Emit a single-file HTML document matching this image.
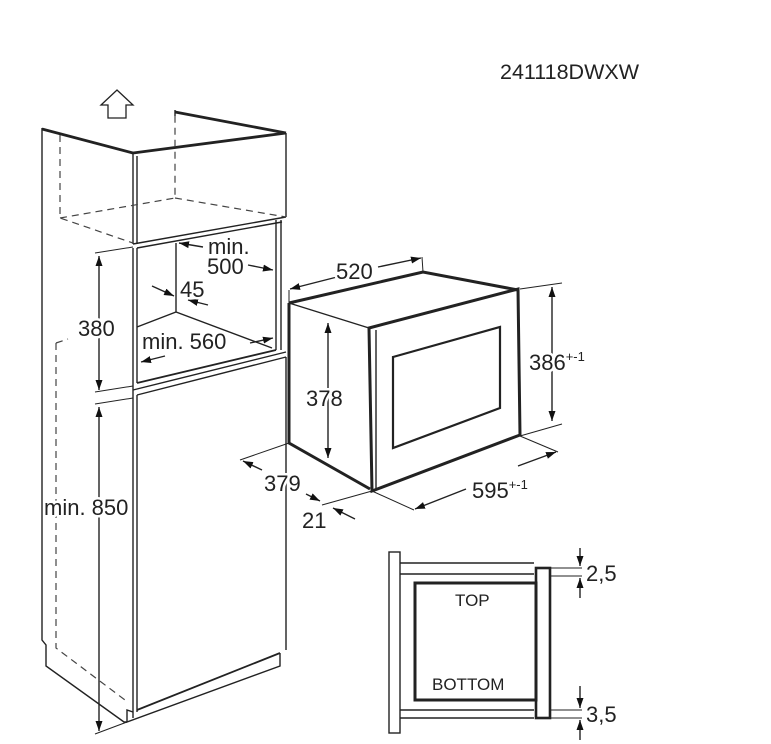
<!DOCTYPE html>
<html><head><meta charset="utf-8"><style>
html,body{margin:0;padding:0;background:#fff;width:771px;height:744px;overflow:hidden}
svg{display:block}
text{font-family:"Liberation Sans",Arial,sans-serif;fill:#222}
.h text{stroke:#fff;stroke-width:5px;paint-order:stroke;stroke-linejoin:round}
</style></head><body>
<svg width="771" height="744" viewBox="0 0 771 744" xmlns="http://www.w3.org/2000/svg">
<defs>
<marker id="a" viewBox="0 0 10 10" refX="10" refY="5" markerWidth="10" markerHeight="10" orient="auto-start-reverse" markerUnits="userSpaceOnUse"><path d="M0,1.5 L10,5 L0,8.5 z" fill="#111"/></marker>
</defs>
<text x="500" y="79" font-size="21.5">241118DWXW</text>

<path d="M108,118 L108,105 L101,105 L117,90 L133,105 L126,105 L126,118 Z" fill="none" stroke="#222" stroke-width="1.3"/>

<g fill="none" stroke="#222" stroke-width="1.4">
<path d="M42,128 L42,640 L46,645 L46,666 L124,722 L127,722"/>
<path d="M42,129 L133,153" stroke-width="2.8"/>
<path d="M133,153 L286,133" stroke-width="2.8"/>
<path d="M175,112 L286,133" stroke-width="2.8"/>
<path d="M175,110 L175,116"/>
<path d="M133,153 L133,244 M137,156 L137,244 M286,133 L286,217"/>
<path d="M133,244 L286,217 M137,248 L282,222"/>
<path d="M276,220 L276,350 M281,220 L281,350"/>
<path d="M133,248 L133,390 M137,248 L137,383"/>
<path d="M176,243 L176,312"/>
<path d="M137,327 L176,312 L272,348"/>
<path d="M137,383 L276,350" stroke-width="1.8"/>
<path d="M133,390 L286,352 M137,395 L286,357"/>
<path d="M133,390 L133,718 M137,395 L137,712"/>
<path d="M286,357 L286,650"/>
<path d="M137,710 L280,653" stroke-width="1.8"/>
<path d="M280,653 L280,666 L127,722 L127,710 L133,712"/>
<g stroke-dasharray="7,5" stroke-width="1.2" stroke="#444">
<path d="M60,135 L60,218 L133,243"/>
<path d="M60,218 L175,198 L175,116"/>
<path d="M175,198 L286,217"/>
<path d="M56,343 L56,648 L125,700"/>
<path d="M56,343 L68,339"/>
</g>
<path d="M95,253 L133,247 M95,392 L133,386 M95,404 L133,398" stroke-width="1"/>
<path d="M99,256 L99,390" marker-start="url(#a)" marker-end="url(#a)"/>
<path d="M99,407 L99,731" marker-start="url(#a)" marker-end="url(#a)"/>
<path d="M95,734 L127,722" stroke-width="1"/>
<path d="M203,247 L179,243" marker-end="url(#a)"/>
<path d="M248,265 L273,270" marker-end="url(#a)"/>
<path d="M152,286 L174,296" marker-end="url(#a)"/>
<path d="M208,305 L188,300" marker-end="url(#a)"/>
<path d="M165,356 L141,362" marker-end="url(#a)"/>
<path d="M250,343 L273,338" marker-end="url(#a)"/>

<path d="M289,303 L423,272 L518,290" stroke-width="3"/>
<path d="M289,303 L289,443 L370,489" stroke-width="3"/>
<path d="M289,303 L369,328" stroke-width="1.4"/>
<path d="M369,328 L518,289 L520,435 L372,491 Z" stroke-width="3"/>
<path d="M376,330 L376,490" stroke-width="1.4"/>
<path d="M393,357 L500,327 L500,408 L393,448 Z" stroke-width="2.2"/>
<path d="M289,290 L289,303 M422,257 L423,272" stroke-width="1"/>
<path d="M337,277 L290,289" marker-end="url(#a)"/>
<path d="M378,267 L421,258" marker-end="url(#a)"/>
<path d="M328,323 L328,458" marker-start="url(#a)" marker-end="url(#a)"/>
<path d="M520,289 L562,283 M520,436 L562,424" stroke-width="1"/>
<path d="M552,287 L552,421" marker-start="url(#a)" marker-end="url(#a)"/>
<path d="M520,436 L558,452 M372,491 L414,510" stroke-width="1"/>
<path d="M466,489 L415,509" marker-end="url(#a)"/>
<path d="M518,466 L556,452" marker-end="url(#a)"/>
<path d="M289,443 L240,460 M372,491 L322,505" stroke-width="1"/>
<path d="M262,470 L243,461" marker-end="url(#a)"/>
<path d="M306,494 L320,501" marker-end="url(#a)"/>
<path d="M355,519 L333,508" marker-end="url(#a)"/>

<rect x="389" y="552" width="11" height="181"/>
<path d="M400,563 L534,563 M400,574 L534,574 M400,710 L534,710 M400,718 L534,718"/>
<rect x="415" y="583" width="121" height="117" stroke-width="3"/>
<rect x="536" y="568" width="14" height="150" stroke-width="2.6"/>
<path d="M550,568 L582,568 M550,576 L582,576 M550,710 L582,710 M550,718 L582,718" stroke-width="1"/>
<path d="M580,548 L580,566" marker-end="url(#a)"/>
<path d="M580,598 L580,578" marker-end="url(#a)"/>
<path d="M580,686 L580,708" marker-end="url(#a)"/>
<path d="M580,740 L580,720" marker-end="url(#a)"/>
</g>

<g class="h" font-size="22">
<text x="208" y="254">min.</text>
<text x="207" y="274">500</text>
<text x="180" y="297">45</text>
<text x="78" y="336">380</text>
<text x="142" y="349">min. 560</text>
<text x="44" y="515">min. 850</text>
<text x="336" y="279">520</text>
<text x="306" y="406">378</text>
<text x="529" y="370">386<tspan font-size="13" dy="-9">+-1</tspan></text>
<text x="264" y="491">379</text>
<text x="472" y="498">595<tspan font-size="13" dy="-9">+-1</tspan></text>
<text x="302" y="528">21</text>
<text x="586" y="581">2,5</text>
<text x="586" y="722">3,5</text>
</g>
<text x="455" y="606" font-size="17">TOP</text>
<text x="432" y="690" font-size="17">BOTTOM</text>
</svg>
</body></html>
